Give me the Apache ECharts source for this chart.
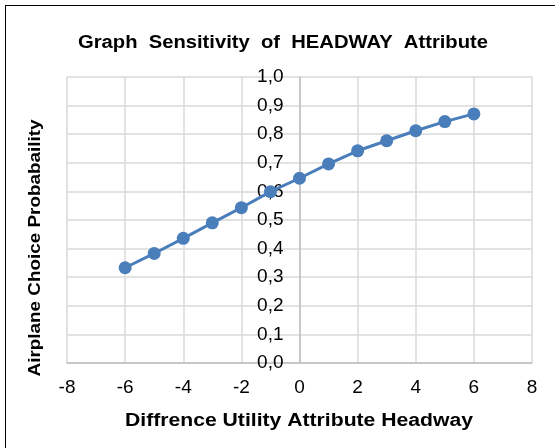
<!DOCTYPE html>
<html>
<head>
<meta charset="utf-8">
<script src="https://cdn.jsdelivr.net/npm/echarts@6/dist/echarts.min.js"></script>
<style>
  html, body { margin: 0; padding: 0; background: #fff; }
  #frame { position: absolute; left: 0; top: 0; width: 555px; height: 448px; }
  #edge { position: absolute; left: 5px; top: 5px; width: 550px; height: 443px;
          border-top: 1.5px solid #000; border-left: 1.5px solid #000; box-sizing: border-box; pointer-events: none; }
  #chart { position: absolute; left: 0; top: 0; width: 555px; height: 448px; }
</style>
</head>
<body>
<div id="frame">
  <div id="chart"></div>
  <div id="edge"></div>
</div>
<script>
// Difference in headway utility vs. probability of choosing the airplane
const utilityDiff = [-6, -5, -4, -3, -2, -1, 0, 1, 2, 3, 4, 5, 6];
const choiceProb = [0.333, 0.383, 0.436, 0.490, 0.543, 0.599, 0.646, 0.696, 0.742, 0.777, 0.812, 0.844, 0.871];

const chartTitle = 'Graph  Sensitivity  of  HEADWAY  Attribute';
const xTitle = 'Diffrence Utility Attribute Headway';
const yTitle = 'Airplane Choice Probabaility';

const font = 'Liberation Sans, Arial, sans-serif';
const xMin = -8, xMax = 8;
const gridLeft = 67, gridRight = 23, gridTop = 77, gridBottom = 85;
const W = 555, H = 448;
const plotW = W - gridLeft - gridRight;

// Horizontal stretch so a bold heading spans the wanted width
const ctx = document.createElement('canvas').getContext('2d');
function stretch(text, size, width) {
  ctx.font = 'bold ' + size + 'px ' + font;
  return width / ctx.measureText(text).width;
}

function heading(text, x, y, size, width, rot) {
  return {
    type: 'text', x: x, y: y, rotation: rot || 0,
    scaleX: stretch(text, size, width), scaleY: 1,
    style: {
      text: text, fontFamily: font, fontSize: size, fontWeight: 'bold', fill: '#000',
      textAlign: 'center', textVerticalAlign: 'middle'
    }
  };
}

const chart = echarts.init(document.getElementById('chart'), null, { renderer: 'canvas' });

chart.setOption({
  animation: false,
  grid: { left: gridLeft, right: gridRight, top: gridTop, bottom: gridBottom, containLabel: false },
  xAxis: {
    type: 'value', min: xMin, max: xMax, interval: 2,
    axisLine: { show: true, onZero: false, lineStyle: { color: '#bfbfbf', width: 1.5 } },
    axisTick: { show: false },
    axisLabel: { fontFamily: font, fontSize: 19, color: '#000', margin: 15 },
    splitLine: { show: true, lineStyle: { color: '#d9d9d9', width: 1.5 } }
  },
  yAxis: {
    type: 'value', min: 0, max: 1, interval: 0.1,
    // vertical axis crosses the horizontal one at zero
    offset: -plotW * (0 - xMin) / (xMax - xMin),
    axisLine: { show: true, onZero: false, lineStyle: { color: '#bfbfbf', width: 1.5 } },
    axisTick: { show: false },
    axisLabel: {
      fontFamily: font, fontSize: 19, color: '#000', margin: 16,
      formatter: v => v.toFixed(1).replace('.', ',')
    },
    splitLine: { show: true, lineStyle: { color: '#d9d9d9', width: 1.5 } }
  },
  graphic: [
    heading(chartTitle, 283, 43, 18, 410),
    heading(xTitle, 299, 421, 18, 348),
    heading(yTitle, 35, 248, 17, 257, Math.PI / 2)
  ],
  series: [{
    type: 'line',
    data: utilityDiff.map((x, i) => [x, choiceProb[i]]),
    symbol: 'circle', symbolSize: 13,
    lineStyle: { color: '#4a7ebb', width: 3 },
    itemStyle: { color: '#4a7ebb' },
    z: 3
  }]
});
</script>
</body>
</html>
